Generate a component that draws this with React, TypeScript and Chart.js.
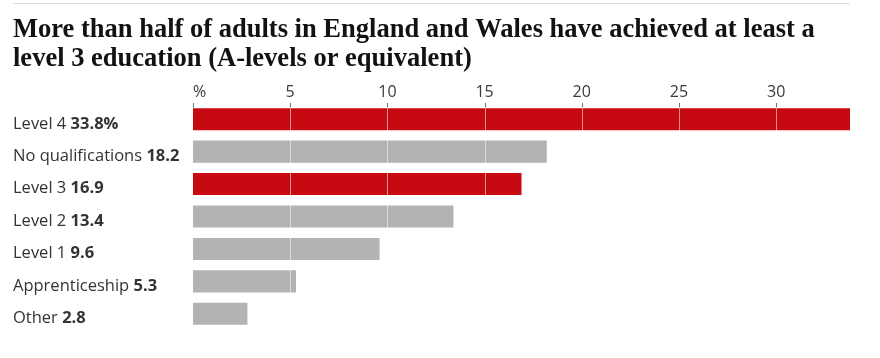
import React, { useEffect, useRef } from "react";
import { Chart, registerables } from "chart.js";

Chart.register(...registerables);

const titleLines = [
  "More than half of adults in England and Wales have achieved at least a",
  "level 3 education (A-levels or equivalent)",
];
const categories = [
  "Level 4",
  "No qualifications",
  "Level 3",
  "Level 2",
  "Level 1",
  "Apprenticeship",
  "Other",
];
const values = [33.8, 18.2, 16.9, 13.4, 9.6, 5.3, 2.8];
const valueLabels = ["33.8%", "18.2", "16.9", "13.4", "9.6", "5.3", "2.8"];
const highlighted = [true, false, true, false, false, false, false];
const tickValues = [0, 5, 10, 15, 20, 25, 30];
const tickLabels = ["%", "5", "10", "15", "20", "25", "30"];

const RED = "#c70a12";
const GREY = "#b3b3b3";
const SANS = '"Open Sans", "Noto Sans", sans-serif';
const SERIF = '"Liberation Serif", "DejaVu Serif", serif';

const decorPlugin = {
  id: "decor",
  beforeDraw(chart: any) {
    const ctx = chart.ctx;
    ctx.save();
    ctx.fillStyle = "#ffffff";
    ctx.fillRect(0, 0, chart.width, chart.height);
    // top rule
    ctx.strokeStyle = "#dcdcdc";
    ctx.lineWidth = 1;
    ctx.beginPath();
    ctx.moveTo(13, 3.5);
    ctx.lineTo(850, 3.5);
    ctx.stroke();
    // title, sized so the first line spans the same width as the original
    ctx.fillStyle = "#121212";
    ctx.font = `bold 25px ${SERIF}`;
    const w0 = ctx.measureText(titleLines[0]).width;
    const size = Math.min(28, (25 * 802) / w0);
    ctx.font = `bold ${size.toFixed(2)}px ${SERIF}`;
    ctx.textBaseline = "alphabetic";
    ctx.textAlign = "left";
    ctx.fillText(titleLines[0], 13, 37);
    ctx.fillText(titleLines[1], 13, 65.5);
    ctx.restore();
  },
  afterDatasetsDraw(chart: any) {
    const ctx = chart.ctx;
    const x = chart.scales.x;
    const y = chart.scales.y;
    const area = chart.chartArea;
    ctx.save();
    // grid lines over bars
    ctx.strokeStyle = "rgba(255,255,255,0.55)";
    ctx.lineWidth = 1;
    tickValues.forEach((v) => {
      if (v === 0) return;
      const px = Math.round(x.getPixelForValue(v)) + 0.5;
      ctx.beginPath();
      ctx.moveTo(px, area.top);
      ctx.lineTo(px, area.bottom);
      ctx.stroke();
    });
    // tick marks
    ctx.strokeStyle = "#707070";
    tickValues.forEach((v) => {
      const px = Math.round(x.getPixelForValue(v)) + 0.5;
      ctx.beginPath();
      ctx.moveTo(px, 103);
      ctx.lineTo(px, 107.5);
      ctx.stroke();
    });
    // tick labels
    ctx.fillStyle = "#3a3a3a";
    ctx.font = `16px ${SANS}`;
    ctx.textBaseline = "alphabetic";
    tickValues.forEach((v, i) => {
      const px = x.getPixelForValue(v);
      ctx.textAlign = i === 0 ? "left" : "center";
      ctx.fillText(tickLabels[i], px, 96.5);
    });
    // category labels
    ctx.textAlign = "left";
    categories.forEach((c, i) => {
      const cy = y.getPixelForValue(i);
      const base = cy + 9.3;
      ctx.font = `16.5px ${SANS}`;
      ctx.fillStyle = "#333333";
      const t = c + " ";
      ctx.fillText(t, 13, base);
      const w = ctx.measureText(t).width;
      ctx.font = `bold 16.5px ${SANS}`;
      ctx.fillText(valueLabels[i], 13 + w, base);
    });
    ctx.restore();
  },
};

export default function App() {
  const ref = useRef<HTMLCanvasElement>(null);
  useEffect(() => {
    if (!ref.current) return;
    const chart = new Chart(ref.current, {
      type: "bar",
      data: {
        labels: categories,
        datasets: [
          {
            data: values,
            backgroundColor: highlighted.map((h) => (h ? RED : GREY)),
            borderWidth: 0,
            barPercentage: 0.68,
            categoryPercentage: 1,
          },
        ],
      },
      options: {
        indexAxis: "y",
        responsive: false,
        animation: false,
        devicePixelRatio: 1,
        layout: { padding: { left: 193, right: 30, top: 103, bottom: 28 } },
        scales: {
          x: { type: "linear", min: 0, max: 33.8, display: false },
          y: { type: "category", display: false },
        },
        plugins: {
          legend: { display: false },
          tooltip: { enabled: false },
          title: { display: false },
        },
      },
      plugins: [decorPlugin],
    } as any);
    return () => chart.destroy();
  }, []);
  return (
    <div style={{ position: "fixed", left: 0, top: 0, width: 880, height: 358, background: "#fff" }}>
      <canvas ref={ref} width={880} height={358} style={{ display: "block" }} />
    </div>
  );
}
